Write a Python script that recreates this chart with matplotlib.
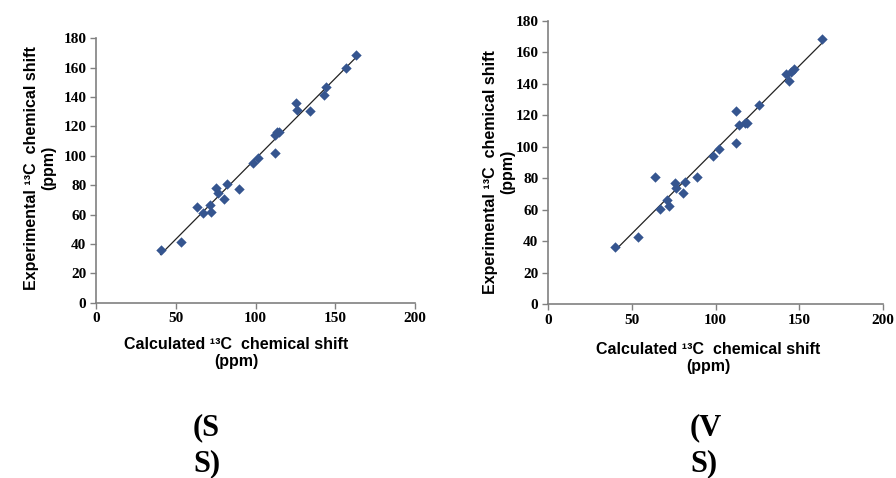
import numpy as np
import matplotlib
matplotlib.use("Agg")
import matplotlib.pyplot as plt

# Panel (SS)
ss_calc = [40.5, 53.2, 63.5, 67.0, 71.2, 71.8, 75.4, 76.2, 80.0, 82.3, 89.4, 98.5,
           101.3, 112.5, 112.5, 113.4, 114.8, 125.7, 126.3, 134.2, 142.8, 144.3, 157.0, 163.0]
ss_exp = [35.9, 41.5, 65.4, 60.8, 66.5, 62.0, 78.3, 74.4, 70.6, 80.8, 77.6, 94.9,
          98.7, 101.9, 114.2, 116.0, 116.0, 135.7, 131.2, 130.5, 141.4, 146.8, 160.0, 168.4]

# Panel (VS)
vs_calc = [40.1, 53.8, 63.8, 66.8, 71.2, 72.0, 75.8, 76.4, 80.4, 82.0, 89.1, 98.7,
           101.9, 112.5, 112.5, 114.3, 117.6, 119.0, 126.0, 142.0, 144.0, 145.2, 146.8, 163.5]
vs_exp = [36.0, 42.6, 80.8, 60.4, 66.1, 62.1, 76.7, 74.0, 70.8, 77.8, 80.8, 94.1,
          98.8, 102.2, 122.7, 113.6, 115.1, 115.1, 126.8, 146.1, 141.8, 147.6, 149.5, 168.5]

x_ticks = [0, 50, 100, 150, 200]
y_ticks = [0, 20, 40, 60, 80, 100, 120, 140, 160, 180]
panel_labels = ["(S\nS)", "(V\nS)"]

xlabel = "Calculated \u00b9\u00b3C  chemical shift\n(ppm)"
ylabel = "Experimental \u00b9\u00b3C  chemical shift\n(ppm)"

fig = plt.figure(figsize=(8.96, 4.78), dpi=100)
W, H = 896, 478

def px_axes(x0, x1, ytop, ybot):
    return fig.add_axes([x0 / W, 1 - ybot / H, (x1 - x0) / W, (ybot - ytop) / H])

axes = [px_axes(96, 415, 38.3, 302.7), px_axes(548, 883, 21, 304)]
datasets = [(ss_calc, ss_exp), (vs_calc, vs_exp)]
marker_color = "#35558f"

for ax, (xc, ye) in zip(axes, datasets):
    xc = np.array(xc); ye = np.array(ye)
    ax.scatter(xc, ye, marker="D", s=28, color=marker_color, zorder=3, linewidths=0)
    k, b = np.polyfit(xc, ye, 1)
    xl = np.array([xc.min(), xc.max()])
    ax.plot(xl, k * xl + b, color="#222222", lw=0.9, zorder=2)
    ax.set_xlim(0, 200)
    ax.set_ylim(0, 180)
    ax.set_xticks(x_ticks)
    ax.set_yticks(y_ticks)
    for s in ["top", "right"]:
        ax.spines[s].set_visible(False)
    for s in ["left", "bottom"]:
        ax.spines[s].set_color("#808080")
        ax.spines[s].set_linewidth(1.2)
    ax.tick_params(direction="out", length=4, width=1.0, color="#808080", pad=3)
    for lab in ax.get_xticklabels() + ax.get_yticklabels():
        lab.set_fontfamily("Liberation Serif")
        lab.set_fontweight("bold")
        lab.set_fontsize(11)

lab_kw = dict(ha="center", va="center", fontsize=11.5, fontweight="bold",
              family="Liberation Sans", linespacing=1.2)
# axis labels
fig.text(236 / W, 1 - 353 / H, xlabel, **lab_kw)
fig.text(40 / W, 1 - 168 / H, ylabel, rotation=90, **lab_kw)
fig.text(708 / W, 1 - 358 / H, xlabel, **lab_kw)
fig.text(499 / W, 1 - 172 / H, ylabel, rotation=90, **lab_kw)

# panel labels
pl_kw = dict(ha="left", va="center", fontsize=22, fontweight="bold",
             family="Liberation Serif", linespacing=1.3)
fig.text(193 / W, 1 - 446 / H, panel_labels[0], **pl_kw)
fig.text(690 / W, 1 - 446 / H, panel_labels[1], **pl_kw)

fig.savefig("out.png", dpi=100)
